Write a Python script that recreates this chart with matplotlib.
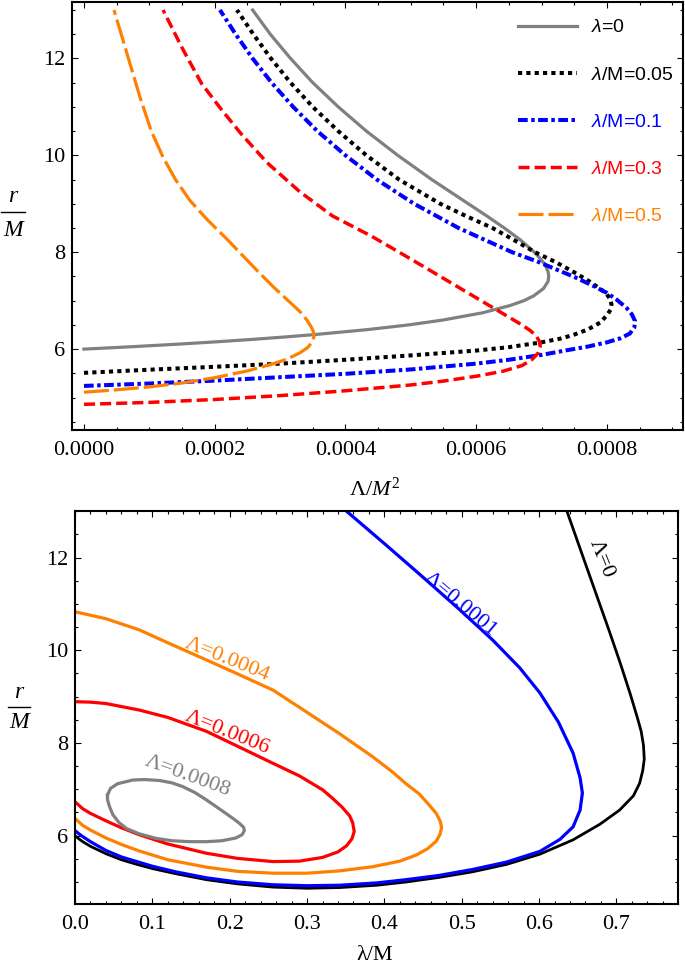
import matplotlib
matplotlib.use("Agg")
import matplotlib.pyplot as plt
from matplotlib.lines import Line2D
from matplotlib.ticker import MultipleLocator, FormatStrFormatter

plt.rcParams['mathtext.fontset'] = 'custom'
plt.rcParams['mathtext.rm'] = 'Liberation Serif'
plt.rcParams['mathtext.it'] = 'Liberation Serif:italic'
plt.rcParams['mathtext.sf'] = 'Liberation Sans:italic'
plt.rcParams['font.family'] = ['Liberation Serif', 'DejaVu Sans']
plt.rcParams['lines.scale_dashes'] = False

# ---------------- top panel data: (Lambda/M^2, r/M) along each curve ----------------
top_labels = [r'$\mathsf{\lambda}$=0', r'$\mathsf{\lambda}$/M=0.05', r'$\mathsf{\lambda}$/M=0.1',
              r'$\mathsf{\lambda}$/M=0.3', r'$\mathsf{\lambda}$/M=0.5']

L_l0 = [0, 0.0000303, 0.0000736, 0.000141, 0.000202, 0.000257, 0.000307, 0.000353, 0.000432,
        0.000497, 0.000549, 0.000610, 0.000652, 0.000673, 0.000688, 0.000703, 0.000710, 0.000711,
        0.000710, 0.000705, 0.000696, 0.000689, 0.000668, 0.000643, 0.000616, 0.000588, 0.000532,
        0.000480, 0.000432, 0.000389, 0.000350, 0.000316, 0.000285, 0.000258]
r_l0 = [6.0, 6.02, 6.05, 6.1, 6.15, 6.2, 6.25, 6.3, 6.4, 6.5, 6.6, 6.75, 6.9, 7.0, 7.1, 7.25, 7.4,
        7.5, 7.6, 7.75, 7.9, 8.0, 8.25, 8.5, 8.75, 9.0, 9.5, 10.0, 10.5, 11.0, 11.5, 12.0, 12.5, 13.0]

L_l005 = [0, 0.0001, 0.0002, 0.0003, 0.0004, 0.0005, 0.0006, 0.00065, 0.0007, 0.00073, 0.00075,
          0.00077, 0.00079, 0.0008, 0.000806, 0.000807, 0.000805, 0.0008, 0.000792, 0.000773,
          0.000748, 0.000721, 0.00069, 0.000658, 0.000625, 0.000584, 0.000545, 0.000482, 0.000432,
          0.000389, 0.00035, 0.000316, 0.000286, 0.000259, 0.000234]
r_l005 = [5.51, 5.575, 5.635, 5.70, 5.78, 5.87, 5.97, 6.04, 6.14, 6.22, 6.30, 6.40, 6.55, 6.70,
          6.82, 6.92, 7.03, 7.13, 7.22, 7.40, 7.60, 7.80, 8.0, 8.25, 8.5, 8.75, 9.0, 9.5, 10.0,
          10.5, 11.0, 11.5, 12.0, 12.5, 13.0]

L_l01 = [0, 0.0001, 0.0002, 0.0003, 0.0004, 0.0005, 0.0006, 0.00065, 0.0007, 0.00074, 0.00077,
         0.0008, 0.00082, 0.000835, 0.000842, 0.000843, 0.000838, 0.00083, 0.000815, 0.0008,
         0.00078, 0.00075, 0.000695, 0.000655, 0.000573, 0.000505, 0.000448, 0.0004, 0.000357,
         0.00032, 0.000287, 0.000258, 0.000232, 0.000208]
r_l01 = [5.24, 5.29, 5.35, 5.42, 5.49, 5.58, 5.70, 5.78, 5.88, 5.98, 6.05, 6.14, 6.22, 6.32, 6.45,
         6.58, 6.72, 6.85, 7.02, 7.16, 7.30, 7.49, 7.8, 8.0, 8.5, 9.0, 9.5, 10.0, 10.5, 11.0,
         11.5, 12.0, 12.5, 13.0]

L_l03 = [0, 0.0001, 0.0002, 0.0003, 0.0004, 0.0005, 0.00055, 0.0006, 0.00064, 0.00067, 0.000685,
         0.000695, 0.000698, 0.000697, 0.000692, 0.000683, 0.00067, 0.00065, 0.00062, 0.00059,
         0.00055, 0.0005, 0.00044, 0.00038, 0.00033, 0.00028, 0.00024, 0.00021, 0.00018, 0.00015,
         0.000121]
r_l03 = [4.86, 4.90, 4.96, 5.04, 5.14, 5.26, 5.34, 5.44, 5.54, 5.66, 5.78, 5.92, 6.05, 6.15, 6.27,
         6.38, 6.50, 6.66, 6.90, 7.14, 7.46, 7.86, 8.33, 8.75, 9.25, 9.85, 10.45, 10.95, 11.48,
         12.22, 13.0]

L_l05 = [0, 0.00005, 0.0001, 0.00015, 0.0002, 0.00025, 0.00029, 0.00031, 0.00033, 0.000342,
         0.000349, 0.000352, 0.000351, 0.000348, 0.000341, 0.00033, 0.00031, 0.00029, 0.000265,
         0.00024, 0.000218, 0.000188, 0.000162, 0.00014, 0.000121, 0.000103, 0.0000857, 0.000068,
         0.0000559, 0.0000459]
r_l05 = [5.11, 5.16, 5.22, 5.30, 5.41, 5.55, 5.70, 5.79, 5.92, 6.03, 6.14, 6.27, 6.36, 6.45, 6.60,
         6.78, 7.03, 7.28, 7.62, 7.97, 8.28, 8.68, 9.07, 9.50, 9.96, 10.5, 11.2, 12.0, 12.55, 13.0]

# ---------------- bottom panel data: (lambda/M, r/M) along each contour ----------------
lam_A0 = [0, 0.005, 0.01, 0.02, 0.04, 0.06, 0.08, 0.1, 0.13, 0.17, 0.21, 0.256, 0.3, 0.342, 0.39,
          0.428, 0.471, 0.514, 0.558, 0.601, 0.644, 0.679, 0.704, 0.722, 0.730, 0.734, 0.736,
          0.735, 0.732, 0.727, 0.718, 0.705, 0.690, 0.673, 0.655, 0.636]
r_A0 = [6.0, 5.93, 5.87, 5.77, 5.61, 5.48, 5.38, 5.29, 5.18, 5.05, 4.96, 4.89, 4.865, 4.88, 4.93,
        5.00, 5.10, 5.22, 5.38, 5.60, 5.91, 6.25, 6.55, 6.86, 7.13, 7.40, 7.65, 7.95, 8.25, 8.55,
        9.05, 9.72, 10.45, 11.25, 12.1, 13.0]

lam_A1 = [0, 0.005, 0.01, 0.02, 0.04, 0.06, 0.08, 0.1, 0.13, 0.17, 0.21, 0.256, 0.3, 0.342, 0.39,
          0.428, 0.47, 0.514, 0.558, 0.601, 0.627, 0.644, 0.653, 0.656, 0.653, 0.644, 0.625, 0.601,
          0.575, 0.540, 0.495, 0.4455, 0.40, 0.351]
r_A1 = [6.11, 6.04, 5.98, 5.87, 5.68, 5.54, 5.44, 5.34, 5.22, 5.09, 5.00, 4.94, 4.92, 4.93, 4.98,
        5.05, 5.14, 5.27, 5.43, 5.66, 5.92, 6.19, 6.55, 6.92, 7.25, 7.78, 8.45, 9.08, 9.62, 10.22,
        10.91, 11.64, 12.30, 13.0]

lam_A4 = [0, 0.01, 0.02, 0.04, 0.06, 0.083, 0.12, 0.17, 0.21, 0.256, 0.3, 0.342, 0.385, 0.42,
          0.441, 0.456, 0.467, 0.472, 0.474, 0.472, 0.467, 0.458, 0.445, 0.428, 0.41, 0.385, 0.342,
          0.3, 0.256, 0.21, 0.17, 0.12, 0.083, 0.04, 0]
r_A4 = [6.37, 6.22, 6.12, 5.95, 5.81, 5.67, 5.48, 5.32, 5.23, 5.19, 5.19, 5.24, 5.33, 5.45, 5.58,
        5.72, 5.88, 6.03, 6.18, 6.32, 6.48, 6.66, 6.90, 7.12, 7.38, 7.70, 8.20, 8.66, 9.14, 9.49,
        9.79, 10.16, 10.44, 10.68, 10.83]

lam_A6 = [0, 0.01, 0.02, 0.04, 0.06, 0.083, 0.12, 0.17, 0.21, 0.256, 0.29, 0.32, 0.34, 0.351, 0.358,
          0.361, 0.359, 0.355, 0.345, 0.332, 0.32, 0.29, 0.256, 0.21, 0.17, 0.12, 0.083, 0.04,
          0.02, 0]
r_A6 = [6.73, 6.58, 6.48, 6.32, 6.17, 6.02, 5.82, 5.62, 5.51, 5.44, 5.45, 5.53, 5.65, 5.78, 5.93,
        6.09, 6.28, 6.43, 6.62, 6.82, 6.99, 7.29, 7.56, 7.93, 8.25, 8.55, 8.71, 8.85, 8.88, 8.89]

lam_A8 = [0.042, 0.046, 0.055, 0.0747, 0.09, 0.109, 0.125, 0.139, 0.155, 0.170, 0.183, 0.195,
          0.206, 0.213, 0.218, 0.219, 0.216, 0.208, 0.19, 0.170, 0.148, 0.126, 0.105, 0.083, 0.067,
          0.057, 0.049, 0.0445, 0.042, 0.042]
r_A8 = [6.88, 7.02, 7.12, 7.20, 7.21, 7.19, 7.14, 7.06, 6.93, 6.77, 6.62, 6.48, 6.35, 6.26, 6.18,
        6.11, 6.02, 5.95, 5.89, 5.87, 5.87, 5.89, 5.94, 6.04, 6.15, 6.28, 6.45, 6.63, 6.78, 6.88]

bottom_labels = ['Λ=0', 'Λ=0.0001', 'Λ=0.0004', 'Λ=0.0006', 'Λ=0.0008']

ORANGE = '#FF8000'
GRAY = '#808080'

fig = plt.figure(figsize=(6.85, 9.72), dpi=100)
ax1 = fig.add_axes([0.1055, 0.5576, 0.8915, 0.4406])
ax2 = fig.add_axes([0.1095, 0.0697, 0.8807, 0.4049])

# ---------------- top panel ----------------
ax1.plot(L_l0, r_l0, color=GRAY, lw=2.3, label=top_labels[0])
ax1.plot(L_l005, r_l005, color='black', lw=2.9, dashes=(3.0, 3.0), label=top_labels[1])
ax1.plot(L_l01, r_l01, color='#0000FF', lw=2.9, dashes=(7.0, 2.5, 2.5, 2.5), label=top_labels[2])
ax1.plot(L_l03, r_l03, color='#FF0000', lw=2.5, dashes=(8.0, 3.6), label=top_labels[3])
ax1.plot(L_l05, r_l05, color=ORANGE, lw=2.3, dashes=(18.0, 3.6), label=top_labels[4])

ax1.set_xlim(-1.79e-5, 9.163e-4)
ax1.set_ylim(4.33, 13.17)
ax1.xaxis.set_major_locator(MultipleLocator(0.0002))
ax1.xaxis.set_minor_locator(MultipleLocator(0.00005))
ax1.xaxis.set_major_formatter(FormatStrFormatter('%.4f'))
ax1.yaxis.set_major_locator(MultipleLocator(2))
ax1.yaxis.set_minor_locator(MultipleLocator(0.5))

leg = ax1.legend(loc='upper left', bbox_to_anchor=(0.730, 0.960), frameon=False,
                 prop={'family': 'Liberation Sans', 'size': 14}, handlelength=3.05,
                 handletextpad=0.7, labelspacing=1.52, borderpad=0, borderaxespad=0)
for txt, col in zip(leg.get_texts(), ['black', 'black', '#0000FF', '#FF0000', ORANGE]):
    txt.set_color(col)

# ---------------- bottom panel ----------------
ax2.plot(lam_A0, r_A0, color='black', lw=2.0)
ax2.plot(lam_A1, r_A1, color='#0000FF', lw=2.3)
ax2.plot(lam_A4, r_A4, color=ORANGE, lw=2.3)
ax2.plot(lam_A6, r_A6, color='#FF0000', lw=2.3)
ax2.plot(lam_A8, r_A8, color=GRAY, lw=2.3)

ax2.set_xlim(0, 0.78)
ax2.set_ylim(4.52, 13.01)
ax2.xaxis.set_major_locator(MultipleLocator(0.1))
ax2.xaxis.set_minor_locator(MultipleLocator(0.02))
ax2.xaxis.set_major_formatter(FormatStrFormatter('%.1f'))
ax2.yaxis.set_major_locator(MultipleLocator(2))
ax2.yaxis.set_minor_locator(MultipleLocator(0.5))

lab_kw = dict(fontsize=16, family='Liberation Serif', ha='center', va='center',
              rotation_mode='anchor')
ax2.text(0.681, 11.97, bottom_labels[0], color='black', rotation=-68, **lab_kw)
ax2.text(0.4986, 10.98, bottom_labels[1], color='#0000FF', rotation=-40, **lab_kw)
ax2.text(0.197, 9.80, bottom_labels[2], color=ORANGE, rotation=-22, **lab_kw)
ax2.text(0.197, 8.22, bottom_labels[3], color='#FF0000', rotation=-22, **lab_kw)
ax2.text(0.145, 7.29, bottom_labels[4], color=GRAY, rotation=-20, **lab_kw)

for ax in (ax1, ax2):
    ax.tick_params(which='both', direction='in', top=True, right=True, width=0.8,
                   labelsize=16, labelfontfamily='Liberation Serif')
    ax.tick_params(which='major', length=4.5)
    ax.tick_params(which='minor', length=2.3)
    ax.tick_params(axis='x', pad=8)
    ax.tick_params(axis='y', pad=5)
    for s in ax.spines.values():
        s.set_linewidth(1.5)


def frac_label(xc, y_num, y_line, y_den, half_w):
    W, H = 685.0, 972.0
    fig.text(xc / W, 1 - y_num / H, 'r', fontsize=17, style='italic', family='Liberation Serif',
             ha='center', va='center')
    fig.text(xc / W, 1 - y_den / H, 'M', fontsize=17, style='italic', family='Liberation Serif',
             ha='center', va='center')
    fig.add_artist(Line2D([(xc - half_w) / W, (xc + half_w) / W], [1 - y_line / H, 1 - y_line / H],
                          transform=fig.transFigure, color='black', lw=1.0))


frac_label(13, 196, 212, 230, 12)
frac_label(19, 692, 707, 723, 11)
fig.text(375 / 685, 1 - 489 / 972, r'$\Lambda/M^2$', fontsize=16, ha='center', va='center')
fig.text(375 / 685, 1 - 955 / 972, 'λ/M', fontsize=16, family='Liberation Serif',
         ha='center', va='center')

fig.savefig('out.png', dpi=100)
